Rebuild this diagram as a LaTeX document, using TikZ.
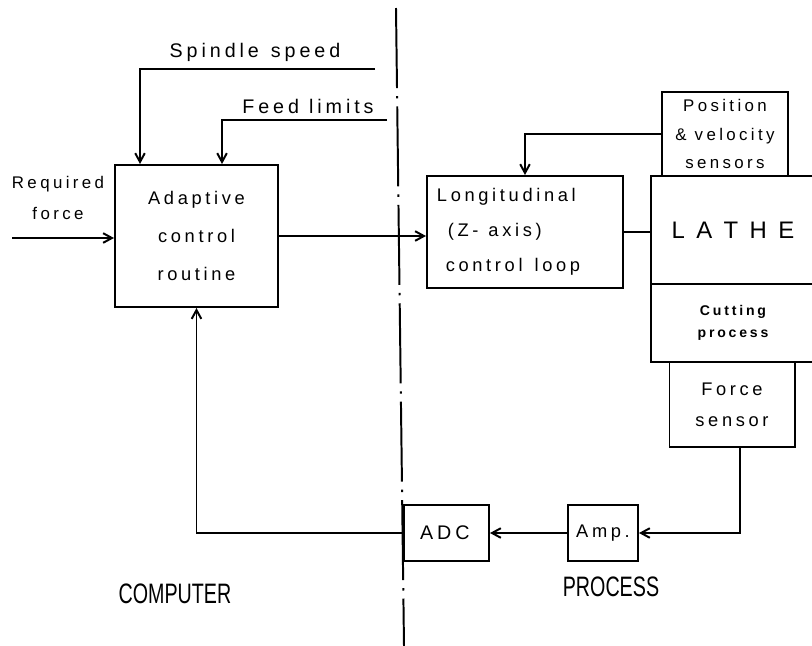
\documentclass[tikz,border=0pt]{standalone}
\usepackage{fontspec}
\usepackage{tikz}
\usetikzlibrary{arrows.meta,positioning}
\newfontfamily\lblfont[LetterSpace=20]{Liberation Sans}
\newfontfamily\capfont{Liberation Sans}

\begin{document}
\begin{tikzpicture}[x=0.025cm, y=-0.025cm, font=\lblfont\fontsize{13}{26}\selectfont]
\tikzset{
  box/.style={rectangle, draw=black, line width=1.4pt, inner sep=0pt, align=center},
  arr/.style={-{Straight Barb[length=2.2mm, width=2.4mm]}, line width=1.4pt},
  divider/.style={line width=1.4pt, dash pattern=on 2cm off 0.2cm on 0.06cm off 0.2cm},
}
\useasboundingbox[fill=white] (0,0) rectangle (812,646);
\draw[divider] (396,8) -- (404,646);
\node[box, minimum width=4.075cm, minimum height=3.55cm, font=\lblfont\fontsize{13}{27}\selectfont] (adapt) at (196.5,236) {Adaptive\\control\\routine};
\node[box, minimum width=4.9cm, minimum height=2.8cm, text width=4.4cm, align=left, font=\lblfont\fontsize{13}{25}\selectfont] (long) at (525,232) {Longitudinal\\\hspace*{0.27cm}(Z-\hspace{0.25cm}axis)\\\hspace*{0.22cm}control\hspace{0.3cm}loop};
\node[box, minimum width=3.15cm, minimum height=2.1cm, font=\lblfont\fontsize{12}{20}\selectfont] (pos) at (725,134) {Position\\\& velocity\\sensors};
\node[box, minimum width=4.1cm, minimum height=2.7cm, font=\lblfont\fontsize{17}{20}\selectfont] (lathe) at (733,230) {L A T H E};
\node[box, minimum width=4.1cm, minimum height=1.95cm, font=\bfseries\lblfont\fontsize{10}{16}\selectfont] (cut) at (733,323) {Cutting\\process};
\node[box, minimum width=3.125cm, minimum height=2.125cm, font=\lblfont\fontsize{13}{22}\selectfont] (force) at (732,404.5) {Force\\sensor};
\node[box, minimum width=2.125cm, minimum height=1.4cm, font=\lblfont\fontsize{14}{16}\selectfont] (adc) at (446.5,533) {ADC\,};
\node[box, minimum width=1.75cm, minimum height=1.4cm, font=\lblfont\fontsize{13}{16}\selectfont] (amp) at (603,533) {Amp.};
\node[font=\lblfont\fontsize{14}{16}\selectfont] (spinlbl) at (255,52) {Spindle\hspace{0.3cm}speed};
\node[font=\lblfont\fontsize{14}{16}\selectfont] (feedlbl) at (308,106) {Feed\hspace{0.25cm}limits};
\node[align=center, font=\lblfont\fontsize{12}{22}\selectfont] (reqlbl) at (58,198) {Required\\force};
\node[font=\capfont\fontsize{20}{24}\selectfont] (comp) at (175,594) {\scalebox{0.7}[1]{COMPUTER}};
\node[font=\capfont\fontsize{20}{24}\selectfont] (proc) at (611,587) {\scalebox{0.7}[1]{PROCESS}};
\coordinate (spin) at (375,69);
\coordinate (feed) at (387,120);
\coordinate (req) at (12,238);
\draw[arr] (spin) -| ([xshift=0.65cm]adapt.north west);
\draw[arr] (feed) -| ([xshift=2.7cm]adapt.north west);
\draw[arr] (req) -- (req -| adapt.west);
\draw[arr] (adapt.east) -- (adapt.east -| long.west);
\draw[line width=1.4pt] (long.east) -- (long.east -| lathe.west);
\draw[arr] (pos.west) -| (long.north);
\draw[arr] ([xshift=0.2cm]force.south) |- (amp.east);
\draw[arr] (amp.west) -- (adc.east);
\draw[arr] (adc.west) -| (adapt.south);
\end{tikzpicture}
\end{document}
